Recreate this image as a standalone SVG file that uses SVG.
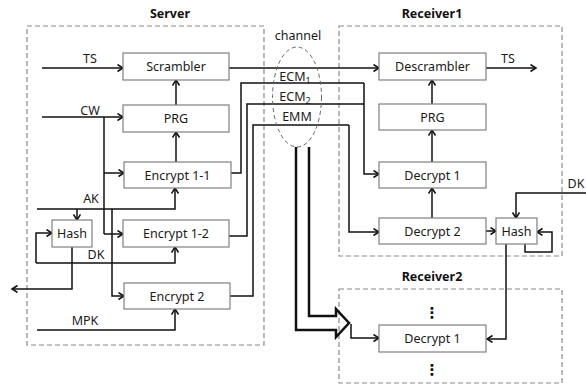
<svg xmlns="http://www.w3.org/2000/svg" width="586" height="385" viewBox="0 0 586 385">
<style>
.box{fill:#fff;stroke:#808080;stroke-width:1.2}
.frame{fill:none;stroke:#8a8a8a;stroke-width:1.2;stroke-dasharray:5,3}
.ln{fill:none;stroke:#111;stroke-width:1.5}
.ar{marker-end:url(#ah)}
.t{font-family:"Noto Sans","Liberation Sans",Arial,sans-serif;font-size:12.5px;fill:#1a1a1a;text-anchor:middle}
.title{font-family:"Noto Sans","Liberation Sans",Arial,sans-serif;font-size:12.5px;font-weight:bold;fill:#111;text-anchor:middle}
</style>
<defs>
<marker id="ah" markerUnits="userSpaceOnUse" markerWidth="10" markerHeight="10" refX="6" refY="4" orient="auto">
<path d="M0.5,0.5 L6,4 L0.5,7.5" fill="none" stroke="#111" stroke-width="1.5"/>
</marker>
</defs>
<rect width="586" height="385" fill="#fff"/>

<g id="frames">
<rect class="frame" x="27" y="26" width="237" height="319"/>
<rect class="frame" x="339" y="26" width="223" height="230"/>
<rect class="frame" x="339" y="289" width="223" height="94"/>
<text class="title" x="170" y="18">Server</text>
<text class="title" x="432" y="18">Receiver1</text>
<text class="title" x="432" y="281">Receiver2</text>
</g>

<g id="connectors">
<path class="ln ar" d="M42,68 H123"/>
<path class="ln ar" d="M42,117 H123"/>
<path class="ln" d="M104,117 V234"/>
<path class="ln ar" d="M104,173 H124"/>
<path class="ln ar" d="M104,234 H123"/>
<path class="ln ar" d="M37,209 H175 V188"/>
<path class="ln ar" d="M77,209 V220"/>
<path class="ln ar" d="M112,209 V296 H124"/>
<path class="ln ar" d="M36,263 V233 H52"/>
<path class="ln ar" d="M36,263 H175 V247"/>
<path class="ln ar" d="M72,247 V289 H12"/>
<path class="ln ar" d="M37,330 H175 V309"/>
<path class="ln ar" d="M176,162 V132"/>
<path class="ln ar" d="M176,105 V80"/>
<path class="ln ar" d="M229,68 H379"/>
<path class="ln" d="M231,173 H241 V83 H364"/>
<path class="ln" d="M229,236 H247 V104 H364"/>
<path class="ln ar" d="M364,83 V174 H379"/>
<path class="ln" d="M230,296 H253 V125 H349"/>
<path class="ln ar" d="M349,125 V232 H379"/>
<path d="M296,147 V330 H336 V337 L349,323 L336,309 V316 H309 V147" fill="none" stroke="#111" stroke-width="2.5" stroke-linejoin="miter"/>
<path class="ln ar" d="M351,324 V338 H379"/>
<path class="ln ar" d="M486,68 H536"/>
<path class="ln ar" d="M432,104 V80"/>
<path class="ln ar" d="M432,162 V130"/>
<path class="ln ar" d="M432,218 V188"/>
<path class="ln ar" d="M486,231 H496"/>
<path class="ln ar" d="M586,193 H516 V218"/>
<path class="ln ar" d="M525,244 V252 H552 V232 H537"/>
<path class="ln ar" d="M506,244 V339 H487"/>
</g>

<g id="channel">
<ellipse cx="297" cy="97" rx="24.5" ry="50" fill="none" stroke="#666" stroke-width="1" stroke-dasharray="4,3"/>
<text class="t" x="298" y="40">channel</text>
<text class="t" x="295" y="81">ECM<tspan font-size="9" dy="3">1</tspan></text>
<text class="t" x="295" y="101">ECM<tspan font-size="9" dy="3">2</tspan></text>
<text class="t" x="297" y="121">EMM</text>
</g>

<g id="labels">
<text class="t" x="90" y="63">TS</text>
<text class="t" x="90" y="115">CW</text>
<text class="t" x="91" y="203">AK</text>
<text class="t" x="96" y="259">DK</text>
<text class="t" x="85" y="325">MPK</text>
<text class="t" x="508" y="63">TS</text>
<text class="t" x="576" y="188">DK</text>
</g>

<g id="scrambler"><rect class="box" x="123" y="53" width="106" height="27"/><text class="t" x="176" y="71">Scrambler</text></g>
<g id="prg-s"><rect class="box" x="123" y="105" width="106" height="27"/><text class="t" x="176" y="123">PRG</text></g>
<g id="encrypt11"><rect class="box" x="124" y="162" width="107" height="26"/><text class="t" x="177.5" y="179.5">Encrypt 1-1</text></g>
<g id="encrypt12"><rect class="box" x="123" y="220" width="106" height="27"/><text class="t" x="176" y="238">Encrypt 1-2</text></g>
<g id="hash-s"><rect class="box" x="52" y="220" width="40" height="27"/><text class="t" x="72" y="238">Hash</text></g>
<g id="encrypt2"><rect class="box" x="124" y="283" width="106" height="26"/><text class="t" x="177" y="300.5">Encrypt 2</text></g>

<g id="descrambler"><rect class="box" x="379" y="53" width="107" height="27"/><text class="t" x="432.5" y="71">Descrambler</text></g>
<g id="prg-r"><rect class="box" x="379" y="104" width="107" height="26"/><text class="t" x="432.5" y="121.5">PRG</text></g>
<g id="decrypt1"><rect class="box" x="379" y="162" width="107" height="26"/><text class="t" x="432.5" y="179.5">Decrypt 1</text></g>
<g id="decrypt2"><rect class="box" x="379" y="218" width="107" height="26"/><text class="t" x="432.5" y="235.5">Decrypt 2</text></g>
<g id="hash-r"><rect class="box" x="496" y="218" width="41" height="26"/><text class="t" x="516.5" y="235.5">Hash</text></g>

<g id="r2-decrypt1"><rect class="box" x="379" y="325" width="107" height="27"/><text class="t" x="432.5" y="343">Decrypt 1</text></g>
<g id="r2-dots">
<text x="432" y="318" font-family="DejaVu Sans,sans-serif" font-size="15" font-weight="bold" fill="#111" text-anchor="middle">⋮</text>
<text x="432" y="375" font-family="DejaVu Sans,sans-serif" font-size="15" font-weight="bold" fill="#111" text-anchor="middle">⋮</text>
</g>
</svg>
